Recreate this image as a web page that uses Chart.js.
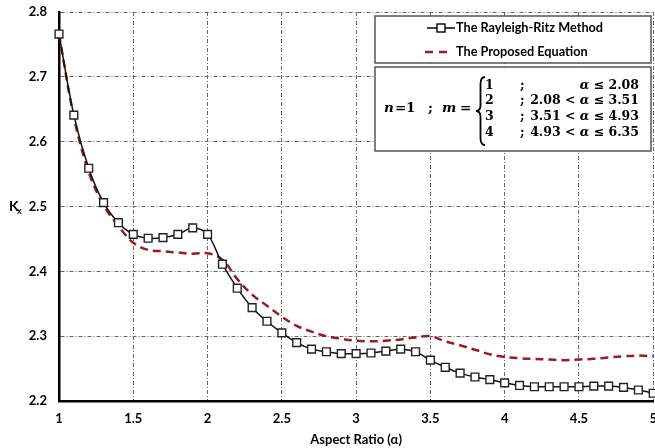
<!DOCTYPE html>
<html>
<head>
<meta charset="utf-8">
<script src="https://cdn.jsdelivr.net/npm/chart.js@4.4.1/dist/chart.umd.min.js"></script>
<style>
  html, body { margin: 0; padding: 0; background: #fff; overflow: hidden; }
  #clip { width: 655px; height: 448px; overflow: hidden; }
  /* wider than the window: the right end of the x axis ("5") gets cut at the edge like the source */
  #wrap { width: 667px; height: 448px; position: relative; }
</style>
</head>
<body>
<div id="clip"><div id="wrap"><canvas id="chart"></canvas></div></div>
<script>
/* ---- data ---- */
const alpha = [
  1.0, 1.1, 1.2, 1.3, 1.4, 1.5, 1.6, 1.7, 1.8, 1.9,
  2.0, 2.1, 2.2, 2.3, 2.4, 2.5, 2.6, 2.7, 2.8, 2.9,
  3.0, 3.1, 3.2, 3.3, 3.4, 3.5, 3.6, 3.7, 3.8, 3.9,
  4.0, 4.1, 4.2, 4.3, 4.4, 4.5, 4.6, 4.7, 4.8, 4.9, 5.0
];
const rayleighRitz = [
  2.766, 2.641, 2.559, 2.506, 2.475, 2.457, 2.451, 2.452, 2.457, 2.467,
  2.457, 2.411, 2.374, 2.344, 2.323, 2.305, 2.290, 2.280, 2.276, 2.273,
  2.273, 2.274, 2.277, 2.280, 2.276, 2.263, 2.252, 2.243, 2.237, 2.233,
  2.228, 2.224, 2.222, 2.222, 2.222, 2.222, 2.223, 2.223, 2.221, 2.217, 2.212
];
const proposedEq = [
  2.766, 2.638, 2.553, 2.502, 2.470, 2.444, 2.433, 2.431, 2.429, 2.427,
  2.428, 2.418, 2.388, 2.364, 2.347, 2.330, 2.316, 2.307, 2.300, 2.296,
  2.293, 2.292, 2.293, 2.295, 2.298, 2.300, 2.292, 2.286, 2.279, 2.272,
  2.268, 2.266, 2.265, 2.264, 2.263, 2.264, 2.265, 2.267, 2.269, 2.270, 2.269
];
const xTickLabels = ['1', '1.5', '2', '2.5', '3', '3.5', '4', '4.5', '5'];
const yTickLabels = ['2.2', '2.3', '2.4', '2.5', '2.6', '2.7', '2.8'];
const seriesNames = ['The Rayleigh-Ritz Method', 'The Proposed Equation'];
const caseRows = [
  { m: '1', range: [{ t: 'α', i: true }, { t: ' ≤ 2.08' }] },
  { m: '2', range: [{ t: '2.08 < ' }, { t: 'α', i: true }, { t: ' ≤ 3.51' }] },
  { m: '3', range: [{ t: '3.51 < ' }, { t: 'α', i: true }, { t: ' ≤ 4.93' }] },
  { m: '4', range: [{ t: '4.93 < ' }, { t: 'α', i: true }, { t: ' ≤ 6.35' }] },
];

const RED = '#9e1b1b';
const SANS = 'Lato, "Open Sans", sans-serif';
const SERIF = '"DejaVu Serif", serif';

const toXY = ys => ys.map((y, i) => ({ x: alpha[i], y }));

function setSerif(ctx, italic, size) {
  ctx.font = (italic ? 'italic ' : '') + 'bold ' + size + 'px ' + SERIF;
}
function runWidth(ctx, parts, size) {
  let w = 0;
  parts.forEach(p => { setSerif(ctx, p.i, size); w += ctx.measureText(p.t).width; });
  return w;
}
function drawRun(ctx, parts, x, y, size) {
  parts.forEach(p => {
    setSerif(ctx, p.i, size);
    ctx.fillText(p.t, x, y);
    x += ctx.measureText(p.t).width;
  });
}

function drawBrace(ctx, x, top, bottom, w) {
  const mid = (top + bottom) / 2;
  const h = w / 2;
  ctx.beginPath();
  ctx.moveTo(x + w, top);
  ctx.quadraticCurveTo(x + h, top, x + h, top + 7);
  ctx.lineTo(x + h, mid - 6);
  ctx.quadraticCurveTo(x + h, mid, x, mid);
  ctx.quadraticCurveTo(x + h, mid, x + h, mid + 6);
  ctx.lineTo(x + h, bottom - 7);
  ctx.quadraticCurveTo(x + h, bottom, x + w, bottom);
  ctx.stroke();
}

const overlayPlugin = {
  id: 'overlay',
  afterDraw(chart) {
    const ctx = chart.ctx;
    ctx.save();

    // y axis title K with subscript x
    ctx.fillStyle = '#000';
    ctx.textBaseline = 'middle';
    ctx.textAlign = 'left';
    ctx.font = 'bold 14px ' + SANS;
    ctx.fillText('K', 9, 206);
    ctx.font = 'bold 9px ' + SANS;
    ctx.fillText('x', 17, 211);

    // legend box
    ctx.fillStyle = '#fff';
    ctx.strokeStyle = '#555';
    ctx.lineWidth = 1.5;
    ctx.fillRect(375, 16, 276, 47);
    ctx.strokeRect(375, 16, 276, 47);

    ctx.strokeStyle = '#000';
    ctx.lineWidth = 1.5;
    ctx.beginPath();
    ctx.moveTo(427, 28);
    ctx.lineTo(455, 28);
    ctx.stroke();
    ctx.fillStyle = '#fff';
    ctx.fillRect(437, 24, 8, 8);
    ctx.lineWidth = 1.4;
    ctx.strokeRect(437, 24, 8, 8);

    ctx.strokeStyle = RED;
    ctx.lineWidth = 2.5;
    ctx.setLineDash([8, 6]);
    ctx.beginPath();
    ctx.moveTo(425, 52);
    ctx.lineTo(450, 52);
    ctx.stroke();
    ctx.setLineDash([]);

    ctx.fillStyle = '#000';
    ctx.font = 'bold 12.7px ' + SANS;
    ctx.fillText(seriesNames[0], 456, 28);
    ctx.fillText(seriesNames[1], 456, 52);

    // equation box
    ctx.fillStyle = '#fff';
    ctx.strokeStyle = '#555';
    ctx.lineWidth = 1.5;
    ctx.fillRect(375, 67, 276, 84);
    ctx.strokeRect(375, 67, 276, 84);

    const fs = 12.5;
    ctx.fillStyle = '#000';
    drawRun(ctx, [{ t: 'n', i: true }], 384, 108, 13.5);
    drawRun(ctx, [{ t: '=' }], 395, 108, 13.5);
    drawRun(ctx, [{ t: '1' }], 406, 108, 13.5);
    drawRun(ctx, [{ t: ';' }], 428, 108, 13.5);
    drawRun(ctx, [{ t: 'm', i: true }], 442, 108, 13.5);
    drawRun(ctx, [{ t: '=' }], 460, 108, 13.5);

    ctx.strokeStyle = '#000';
    ctx.lineWidth = 1.8;
    drawBrace(ctx, 476, 77, 145, 9);

    const rowY = [86, 101, 117, 133];
    caseRows.forEach((row, i) => {
      drawRun(ctx, [{ t: row.m }], 485, rowY[i], fs);
      drawRun(ctx, [{ t: ';' }], 520, rowY[i], fs);
      const w = runWidth(ctx, row.range, fs);
      drawRun(ctx, row.range, 639 - w, rowY[i], fs);
    });

    ctx.restore();
  }
};

const tickFont = { family: SANS, size: 13, weight: 'bold' };

new Chart(document.getElementById('chart'), {
  type: 'line',
  data: {
    datasets: [
      {
        label: seriesNames[0],
        data: toXY(rayleighRitz),
        borderColor: '#111',
        borderWidth: 1.5,
        pointStyle: 'rect',
        pointRadius: 5.5,
        pointBorderWidth: 1.4,
        pointBorderColor: '#222',
        pointBackgroundColor: '#fff',
        tension: 0.35,
        clip: false,
      },
      {
        label: seriesNames[1],
        data: toXY(proposedEq),
        borderColor: RED,
        borderWidth: 2.5,
        borderDash: [8, 5],
        pointRadius: 0,
        tension: 0.35,
        clip: false,
      },
    ],
  },
  options: {
    responsive: true,
    maintainAspectRatio: false,
    animation: false,
    layout: { padding: { top: 12, right: 0, left: 0, bottom: 0 } },
    plugins: {
      legend: { display: false },
      tooltip: { enabled: false },
    },
    scales: {
      x: {
        type: 'linear',
        min: 1,
        max: 5,
        ticks: {
          stepSize: 0.5,
          padding: 10,
          color: '#000',
          font: tickFont,
          maxRotation: 0,
          callback: (v, i) => xTickLabels[i],
        },
        grid: { color: '#666', lineWidth: 1, drawTicks: false },
        border: { color: '#000', width: 2.5, dash: [4, 2, 1, 2] },
        title: {
          display: true,
          text: 'Aspect Ratio (α)',
          color: '#000',
          font: { family: SANS, size: 13, weight: 'bold' },
          padding: { top: 0, bottom: 0 },
        },
        afterFit: s => { s.height = 47; },
      },
      y: {
        min: 2.2,
        max: 2.8,
        ticks: {
          stepSize: 0.1,
          padding: 12,
          color: '#000',
          font: tickFont,
          callback: (v, i) => yTickLabels[i],
        },
        grid: { color: '#666', lineWidth: 1, drawTicks: false },
        border: { color: '#000', width: 2.5, dash: [4, 2, 1, 2] },
        afterFit: s => { s.width = 59; s.paddingTop = 0; s.paddingBottom = 0; },
      },
    },
  },
  plugins: [overlayPlugin],
});
</script>
</body>
</html>
